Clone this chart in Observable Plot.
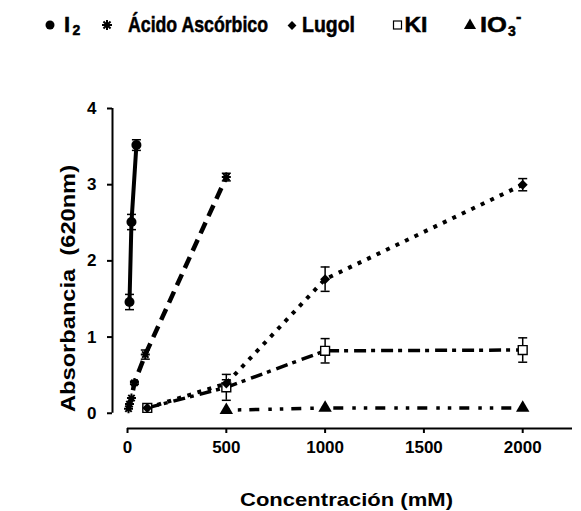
<!DOCTYPE html>
<html>
<head>
<meta charset="utf-8">
<script src="https://cdn.jsdelivr.net/npm/d3@7"></script>
<script src="https://cdn.jsdelivr.net/npm/@observablehq/plot@0.6"></script>
<style>
  html, body { margin: 0; padding: 0; background: #fff; }
  #wrap { width: 581px; height: 511px; position: relative; overflow: hidden; font-family: "Liberation Sans", Arial, sans-serif; }
  #legend { display: block; }
  #chart svg { display: block; }
</style>
</head>
<body>
<div id="wrap">
  <svg id="legend" width="581" height="50" xmlns="http://www.w3.org/2000/svg"></svg>
  <div id="chart"></div>
</div>
<script>
// ---- data ----
const seriesNames = ["I₂", "Ácido Ascórbico", "Lugol", "KI", "IO₃⁻"];

const i2X = [10, 20, 45];
const i2Y = [1.46, 2.51, 3.52];
const i2Err = [0.1, 0.1, 0.07];

const ascX = [5, 10, 20, 35, 90, 500];
const ascY = [0.06, 0.12, 0.2, 0.4, 0.77, 3.1];
const ascErr = [0, 0, 0, 0.02, 0.06, 0.05];

const lugolX = [100, 500, 1000, 2000];
const lugolY = [0.07, 0.39, 1.76, 3.0];
const lugolErr = [0.02, 0.05, 0.16, 0.08];

const kiX = [100, 500, 1000, 2000];
const kiY = [0.07, 0.34, 0.82, 0.83];
const kiErr = [0.02, 0.17, 0.16, 0.16];

const io3X = [500, 1000, 2000];
const io3Y = [0.04, 0.07, 0.07];
const io3Err = [0, 0, 0];

const xTicks = [0, 500, 1000, 1500, 2000];
const yTicks = [0, 1, 2, 3, 4];
const xDomain = [-76, 2252];
const yDomain = [-0.2, 4];

const xTitle = "Concentración (mM)";
const yTitle = "Absorbancia  (620nm)";

// ---- build table ----
function rows(name, xs, ys, es) {
  return xs.map((x, i) => ({ series: name, x, y: ys[i], e: es[i] }));
}
const dI2 = rows(seriesNames[0], i2X, i2Y, i2Err);
const dAsc = rows(seriesNames[1], ascX, ascY, ascErr);
const dLug = rows(seriesNames[2], lugolX, lugolY, lugolErr);
const dKI = rows(seriesNames[3], kiX, kiY, kiErr);
const dIO3 = rows(seriesNames[4], io3X, io3Y, io3Err);
const all = [...dI2, ...dAsc, ...dLug, ...dKI, ...dIO3];
const withErr = all.filter(d => d.e > 0);

const capSymbol = { draw(ctx, size) { const w = Math.sqrt(size / Math.PI); ctx.moveTo(-w, 0); ctx.lineTo(w, 0); } };
const starSymbol = { draw(ctx, size) {
  const r = Math.sqrt(size / Math.PI);
  for (let k = 0; k < 4; k++) {
    const a = k * Math.PI / 4;
    ctx.moveTo(-r * Math.cos(a), -r * Math.sin(a));
    ctx.lineTo(r * Math.cos(a), r * Math.sin(a));
  }
} };

const lineStyles = [
  { data: dI2, strokeWidth: 4, strokeDasharray: null, strokeLinecap: "butt" },
  { data: dAsc, strokeWidth: 4.5, strokeDasharray: "12 7", strokeLinecap: "butt" },
  { data: dLug, strokeWidth: 4, strokeDasharray: "4 6.5", strokeLinecap: "butt" },
  { data: dKI, strokeWidth: 3.5, strokeDasharray: "12 5 4 6", strokeLinecap: "butt" },
  { data: dIO3, strokeWidth: 3.5, strokeDasharray: "3.5 8 3.5 8 10 9", strokeLinecap: "butt" }
];

const chart = Plot.plot({
  width: 581,
  height: 461,
  marginLeft: 112,
  marginRight: 9,
  marginTop: 58,
  marginBottom: 83,
  x: { domain: xDomain },
  y: { domain: yDomain },
  style: { fontFamily: "Liberation Sans, Arial, sans-serif", color: "#000", background: "#fff" },
  marks: [
    Plot.ruleY([yDomain[0]], { x1: xTicks[0], x2: xDomain[1], strokeWidth: 2 }),
    Plot.ruleX([xDomain[0]], { y1: yTicks[0], y2: yTicks[yTicks.length - 1], strokeWidth: 2 }),
    Plot.axisX({ ticks: xTicks, tickFormat: d3.format("d"), tickSize: 5, tickPadding: 7, fontSize: 17, fontWeight: "bold", strokeWidth: 2, label: null }),
    Plot.axisY({ ticks: yTicks, tickFormat: d3.format("d"), tickSize: 5, tickPadding: 11, fontSize: 17, fontWeight: "bold", strokeWidth: 2, label: null }),
    ...lineStyles.map(s => Plot.line(s.data, { x: "x", y: "y", stroke: "#000", strokeWidth: s.strokeWidth, strokeDasharray: s.strokeDasharray, strokeLinecap: s.strokeLinecap })),
    Plot.ruleX(withErr, { x: "x", y1: d => d.y - d.e, y2: d => d.y + d.e, stroke: "#000", strokeWidth: 1.5 }),
    Plot.dot(withErr, { x: "x", y: d => d.y + d.e, symbol: capSymbol, r: 4.5, stroke: "#000", strokeWidth: 1.5, fill: "none" }),
    Plot.dot(withErr, { x: "x", y: d => d.y - d.e, symbol: capSymbol, r: 4.5, stroke: "#000", strokeWidth: 1.5, fill: "none" }),
    Plot.dot(dKI, { x: "x", y: "y", symbol: "square", r: 5, fill: "#fff", stroke: "#000", strokeWidth: 1.4 }),
    Plot.dot(dI2, { x: "x", y: "y", symbol: "circle", r: 5, fill: "#000", stroke: "none" }),
    Plot.dot(dAsc, { x: "x", y: "y", symbol: starSymbol, r: 4.5, fill: "none", stroke: "#000", strokeWidth: 2 }),
    Plot.dot(dLug, { x: "x", y: "y", symbol: "diamond2", r: 4.5, fill: "#000", stroke: "none" }),
    Plot.dot(dIO3, { x: "x", y: "y", symbol: "triangle", r: 5, fill: "#000", stroke: "none" }),
    Plot.text([xTitle], { frameAnchor: "bottom", textAnchor: "middle", lineAnchor: "bottom", dx: 4, dy: 77, fontSize: 19, fontWeight: "bold", className: "xtitle" }),
    Plot.text([yTitle], { frameAnchor: "left", textAnchor: "middle", lineAnchor: "middle", rotate: -90, dx: -44, dy: 20, fontSize: 20, fontWeight: "bold", className: "ytitle" })
  ]
});
document.getElementById("chart").appendChild(chart);

d3.select(chart).selectAll(".xtitle text").attr("textLength", 213).attr("lengthAdjust", "spacingAndGlyphs");
d3.select(chart).selectAll(".ytitle text").attr("textLength", 247).attr("lengthAdjust", "spacingAndGlyphs").style("white-space", "pre");

// ---- legend (above the chart) ----
const lg = d3.select("#legend");
const font = "Liberation Sans, Arial, sans-serif";
function txt(x, y, s, size, len) {
  const t = lg.append("text").attr("x", x).attr("y", y).attr("font-family", font).attr("font-weight", "bold").attr("font-size", size).attr("fill", "#000").attr("stroke", "#000").attr("stroke-width", 0.5).text(s);
  if (len) t.attr("textLength", len).attr("lengthAdjust", "spacingAndGlyphs");
  return t;
}
// I2
lg.append("circle").attr("cx", 50).attr("cy", 25).attr("r", 4.5).attr("fill", "#000");
txt(64, 32, "I", 22);
txt(72.5, 35, "2", 14);
// Ácido Ascórbico
lg.append("path").attr("transform", "translate(107,25)").attr("d", d3.symbol(starSymbol, Math.PI * 5 * 5)()).attr("stroke", "#000").attr("stroke-width", 2).attr("fill", "none");
txt(128, 32, seriesNames[1], 22, 140);
// Lugol
lg.append("path").attr("transform", "translate(292,25.5)").attr("d", d3.symbol(d3.symbolDiamond2, Math.PI * 4 * 4)()).attr("fill", "#000");
txt(302, 32, seriesNames[2], 22, 53);
// KI
lg.append("rect").attr("x", 393.5).attr("y", 21).attr("width", 8).attr("height", 8).attr("fill", "#fff").attr("stroke", "#000").attr("stroke-width", 1.2);
txt(404.5, 32, seriesNames[3], 22, 23);
// IO3-
lg.append("path").attr("transform", "translate(470,25.5)").attr("d", d3.symbol(d3.symbolTriangle, Math.PI * 4.5 * 4.5)()).attr("fill", "#000");
txt(480, 32, "IO", 22, 27);
txt(508, 36, "3", 14);
txt(516, 22, "-", 16);
</script>
</body>
</html>
